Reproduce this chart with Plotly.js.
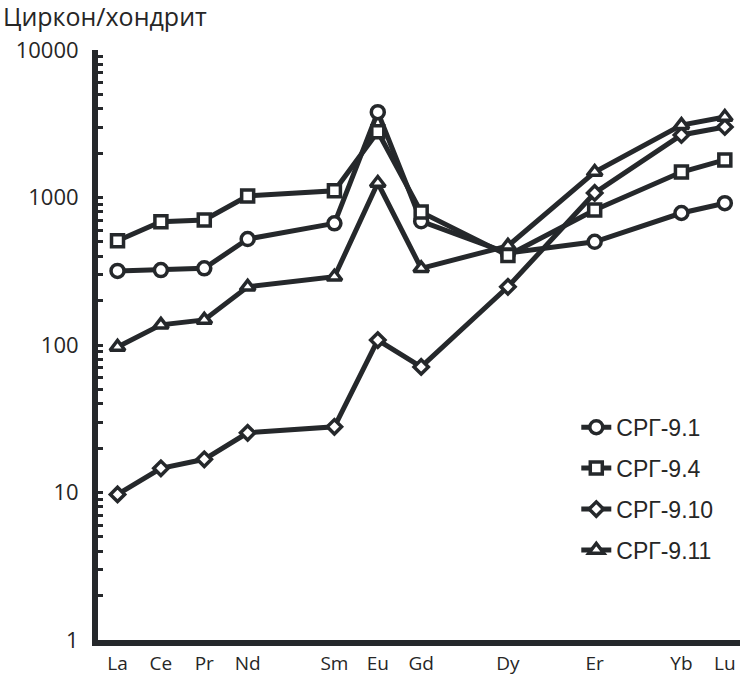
<!DOCTYPE html>
<html>
<head>
<meta charset="utf-8">
<script src="https://cdn.plot.ly/plotly-3.0.1.min.js"></script>
<style>html,body{margin:0;padding:0;background:#fff;}#chart{width:740px;height:681px;}</style>
</head>
<body>
<div id="chart"></div>
<script>
// All REE positions on the axis (gaps for unmeasured elements)
const elements = ['La','Ce','Pr','Nd','Pm','Sm','Eu','Gd','Tb','Dy','Ho','Er','Tm','Yb','Lu'];
const measured = ['La','Ce','Pr','Nd','Sm','Eu','Gd','Dy','Er','Yb','Lu'];
const tickLabels = elements.map(e => measured.includes(e) ? e : '');

const seriesNames = ['СРГ-9.1','СРГ-9.4','СРГ-9.10','СРГ-9.11'];
const srg91  = [318, 322, 331, 523, 668, 3790, 690, 420, 501, 785, 915];
const srg94  = [509, 685, 704, 1024, 1110, 2790, 796, 405, 823, 1489, 1797];
const srg910 = [9.7, 14.6, 16.8, 25.4, 27.9, 108, 71, 248, 1073, 2654, 3006];
const srg911 = [97, 137, 148, 248, 290, 1254, 331, 470, 1489, 3095, 3513];

const yTickVals = [1, 10, 100, 1000, 10000];
const yTickText = ['1', '10', '100', '1000', '10000'];

const ink = '#25282b';
const symbols = ['circle', 'square', 'diamond', 'triangle-up'];
const sizes = [13, 12, 11, 13];
const allSeries = [srg91, srg94, srg910, srg911];

const traces = allSeries.map((vals, i) => ({
  type: 'scatter',
  mode: 'lines+markers',
  name: seriesNames[i],
  legendgroup: 'g' + i,
  x: measured,
  y: vals,
  line: {color: ink, width: 5},
  marker: {symbol: symbols[i], size: sizes[i], color: '#ffffff',
           line: {color: ink, width: 3.5}},
  xaxis: 'x', yaxis: 'y'
}));

const minorVals = [];
for (let d = 0; d < 4; d++) for (let k = 2; k <= 9; k++) minorVals.push(k * Math.pow(10, d));

const boundaryTicks = [];
for (let i = 0; i < elements.length - 1; i++) boundaryTicks.push(i + 0.5);

const layout = {
  width: 740, height: 681,
  margin: {l: 98, r: 0, t: 50, b: 41},
  paper_bgcolor: '#ffffff', plot_bgcolor: '#ffffff',
  showlegend: true,
  title: {text: 'Циркон/хондрит', x: 0.004, xanchor: 'left', xref: 'container', yref: 'container', y: 0.988, yanchor: 'top',
          font: {family: 'Open Sans', size: 25, color: '#262626'}},
  xaxis: {
    type: 'category', categoryorder: 'array', categoryarray: elements,
    tickmode: 'array', tickvals: elements, ticktext: tickLabels,
    range: [-0.45, 14.35], showgrid: false, zeroline: false,
    showline: true, linecolor: ink, linewidth: 6, ticks: '',
    tickfont: {family: 'Open Sans', size: 19, color: '#262626'},
    ticklabelstandoff: 1, fixedrange: true
  },
  xaxis2: {
    type: 'linear', overlaying: 'x', anchor: 'y', side: 'bottom',
    range: [-0.45, 14.35], tickmode: 'array', tickvals: boundaryTicks,
    ticks: 'inside', ticklen: 5, tickwidth: 3, tickcolor: ink,
    showticklabels: false, showgrid: false, zeroline: false, showline: false
  },
  yaxis: {
    type: 'log', range: [0, 4], tickmode: 'array', tickvals: yTickVals, ticktext: yTickText,
    showgrid: false, zeroline: false, showline: true, linecolor: ink, linewidth: 6,
    ticks: 'inside', ticklen: 5, tickwidth: 3, tickcolor: ink,
    minor: {tickmode: 'array', tickvals: minorVals, ticks: 'inside', ticklen: 5, tickwidth: 3, tickcolor: ink, showgrid: false},
    tickfont: {family: 'Open Sans', size: 22, color: '#262626'},
    ticklabelstandoff: 9, fixedrange: true
  },
  legend: {
    x: 0.745, y: 0.397, xanchor: 'left', yanchor: 'top',
    bgcolor: 'rgba(0,0,0,0)', borderwidth: 0,
    font: {family: 'Liberation Sans', size: 23, color: '#262626'},
    itemwidth: 30, tracegroupgap: 8, traceorder: 'grouped'
  }
};

Plotly.newPlot('chart', traces, layout, {displayModeBar: false, staticPlot: true});
</script>
</body>
</html>
